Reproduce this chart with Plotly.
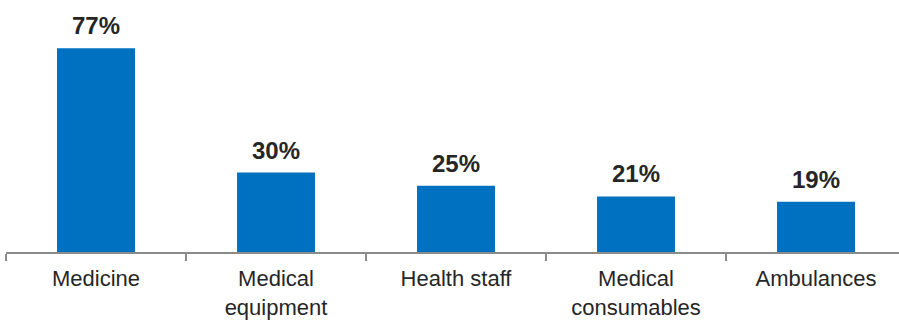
import plotly.graph_objects as go

categories = ["Medicine", "Medical<br>equipment", "Health staff", "Medical<br>consumables", "Ambulances"]
values = [77, 30, 25, 21, 19]
value_labels = ["77%", "30%", "25%", "21%", "19%"]

FONT = "Liberation Sans, Arial, sans-serif"

fig = go.Figure(go.Bar(
    x=categories,
    y=values,
    width=0.433,
    marker=dict(color="#0070C0", line=dict(width=0)),
    hoverinfo="x+y",
))

for cat, val, lab in zip(categories, values, value_labels):
    fig.add_annotation(
        x=cat, y=val, text="<b>%s</b>" % lab, showarrow=False,
        xref="x", yref="y", yanchor="bottom", yshift=7,
        font=dict(family=FONT, size=24, color="#262626"),
    )

fig.update_layout(
    width=899, height=321,
    margin=dict(l=6, r=0, t=10, b=69),
    paper_bgcolor="white", plot_bgcolor="white",
    showlegend=False,
    bargap=0.567,
    font=dict(family=FONT, color="#262626"),
    xaxis=dict(
        type="category",
        range=[-0.5, 4.461],
        showline=True, linecolor="#8C8C8C", linewidth=2,
        ticks="outside", tickson="boundaries", ticklen=7, tickwidth=2, tickcolor="#8C8C8C",
        tickfont=dict(size=22, color="#262626"),
        ticklabelstandoff=6,
        showgrid=False, zeroline=False, automargin=False,
    ),
    yaxis=dict(
        range=[0, 91.4],
        visible=False, showgrid=False, zeroline=False,
    ),
)

fig.write_html("out.html", config={"displayModeBar": False},
               post_script="document.body.style.margin='0';")
